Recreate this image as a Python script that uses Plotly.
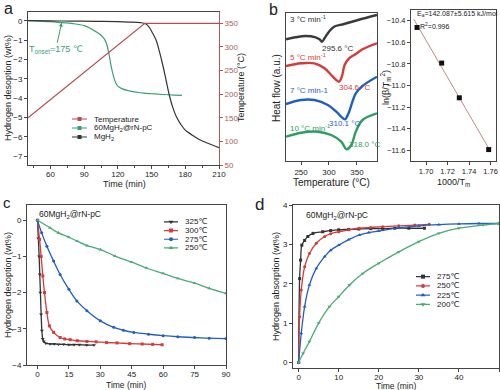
import plotly.graph_objects as go
import numpy as np

W, H = 500, 390
def px(x): return x / W
def py(y): return 1 - y / H

FONT = "Liberation Sans, Arial, DejaVu Sans, sans-serif"
BLK = "#333333"
RED_A = "#b94a4f"
AX_R = "#a85c5c"
GRN_A = "#3a9e73"
RED = "#d63a3a"
BLU = "#1f5fbf"
GRN = "#2f9c62"
GRN_L = "#4aaa7a"

# ---------- panel a ----------
a_t_temp = [40, 144, 210]
a_temp = [150, 350, 350]
a_t_comp = [40, 50, 60, 70, 80, 90, 95, 100, 105, 108, 110, 112, 114, 116, 118, 120, 124, 130, 140, 150, 160, 170, 177]
a_h_comp = [0, -0.02, -0.05, -0.1, -0.15, -0.25, -0.38, -0.55, -0.75, -0.95, -1.2, -1.7, -2.35, -2.85, -3.2, -3.38, -3.52, -3.62, -3.72, -3.77, -3.81, -3.84, -3.85]
a_t_mg = [40, 60, 80, 100, 120, 130, 140, 145, 148, 151, 154, 157, 160, 163, 166, 169, 172, 176, 180, 186, 192, 200, 210]
a_h_mg = [0, -0.01, -0.02, -0.03, -0.05, -0.07, -0.1, -0.17, -0.35, -0.65, -1.0, -1.6, -2.3, -3.1, -3.9, -4.5, -4.95, -5.35, -5.65, -5.9, -6.12, -6.33, -6.55]
a_legend = ["Temperature", "60MgH<sub>2</sub>@rN-pC", "MgH<sub>2</sub>"]

# ---------- panel b (DSC) ----------
b_T3 = [223, 240, 258, 276, 283, 287.5, 292, 300, 309, 327, 352, 386]
b_h3 = [12.17, 12.37, 12.5, 12.37, 12.17, 11.93, 12.27, 12.93, 13.43, 13.7, 14.1, 14.6]
b_T5 = [223, 250, 274, 292, 304, 313, 318, 323, 328, 336, 348, 360, 386]
b_h5 = [9.5, 9.77, 9.77, 9.27, 8.6, 8.1, 7.93, 8.43, 9.6, 10.27, 10.7, 11.17, 11.77]
b_T7 = [223, 250, 274, 298, 313, 325, 329, 335, 343, 348, 360, 386]
b_h7 = [5.7, 6.1, 6.1, 5.6, 4.93, 4.27, 4.17, 4.77, 6.1, 6.77, 7.5, 8.43]
b_T10 = [223, 250, 280, 304, 322, 331.5, 340, 348, 360, 386]
b_h10 = [2.43, 2.83, 2.93, 2.6, 1.93, 1.17, 1.6, 2.93, 4.1, 4.77]

b_inv_T = [1.6916, 1.7145, 1.7309, 1.7582]
b_lnbeta = [-10.462, -10.792, -11.114, -11.594]

# ---------- panel c ----------
c_t325 = [0, 0.4, 0.8, 1.1, 1.4, 1.75, 2.1, 2.5, 3, 4, 6, 8, 10, 12.5, 15, 17.5, 20, 23.5, 27]
c_h325 = [0, -0.5, -1.0, -1.5, -2.0, -2.6, -3.05, -3.28, -3.35, -3.4, -3.42, -3.42, -3.43, -3.43, -3.44, -3.44, -3.44, -3.45, -3.45]
c_t300 = [0, 1, 1.75, 2.55, 3.35, 4.5, 5.7, 7.7, 10.8, 13, 15.6, 19, 23.6, 28, 33, 38, 44, 50, 55, 59.5]
c_h300 = [0, -0.53, -1.0, -1.54, -2.0, -2.55, -2.92, -3.1, -3.24, -3.28, -3.3, -3.33, -3.35, -3.36, -3.38, -3.39, -3.41, -3.42, -3.43, -3.44]
c_t275 = [0, 2, 4.5, 7.7, 10.8, 15, 18.8, 23.6, 30, 36.4, 41, 46, 53, 60, 67, 75, 82, 90]
c_h275 = [0, -0.35, -0.72, -1.13, -1.5, -1.91, -2.23, -2.5, -2.78, -2.96, -3.04, -3.1, -3.15, -3.19, -3.22, -3.24, -3.26, -3.27]
c_t250 = [0, 6, 10, 15, 19, 23.6, 30, 37, 45, 52, 60, 67, 75, 82, 90]
c_h250 = [0, -0.21, -0.35, -0.47, -0.58, -0.7, -0.81, -0.99, -1.16, -1.32, -1.47, -1.61, -1.74, -1.88, -2.02]
c_legend = ["325℃", "300℃", "275℃", "250℃"]

# ---------- panel d ----------
d_t275 = [0, 0.25, 0.5, 0.8, 1.5, 2.3, 3.6, 6, 8, 10, 12.5, 15, 18, 21, 24, 27.5, 31.4]
d_h275 = [0, 2.13, 2.6, 2.98, 3.1, 3.2, 3.28, 3.32, 3.35, 3.37, 3.38, 3.39, 3.4, 3.4, 3.41, 3.41, 3.41]
d_t250 = [0, 0.25, 0.66, 1.5, 2.7, 4.4, 6.5, 8, 10, 12.5, 15.2, 18, 21, 25, 29, 32.6]
d_h250 = [0, 1.16, 1.84, 2.43, 2.77, 3.03, 3.2, 3.27, 3.32, 3.37, 3.41, 3.43, 3.45, 3.47, 3.49, 3.51]
d_t225 = [0, 0.66, 1.5, 2.7, 4.4, 6.5, 8, 10, 12.5, 15.2, 17.5, 20, 25, 30, 35, 40, 45, 50]
d_h225 = [0, 0.74, 1.42, 1.97, 2.39, 2.69, 2.85, 2.98, 3.12, 3.24, 3.3, 3.34, 3.42, 3.47, 3.5, 3.52, 3.53, 3.53]
d_t200 = [0, 1.1, 2.7, 5, 7.7, 10, 12.7, 16, 20, 25, 30, 35, 40, 46, 50]
d_h200 = [0, 0.23, 0.53, 1.0, 1.42, 1.67, 1.97, 2.26, 2.52, 2.81, 3.07, 3.28, 3.41, 3.49, 3.53]
d_legend = ["275℃", "250℃", "225℃", "200℃"]

fig = go.Figure()

def sc(x, y, xa, ya, color, width=1.2, symbol=None, msize=3, shape='spline'):
    mode = 'lines+markers' if symbol else 'lines'
    kw = dict(x=x, y=y, xaxis=xa, yaxis=ya, mode=mode,
              line=dict(color=color, width=width, shape=shape),
              showlegend=False, hoverinfo='skip')
    if symbol:
        kw['marker'] = dict(symbol=symbol, size=msize, color=color)
    fig.add_trace(go.Scatter(**kw))

# panel a
sc(a_t_temp, a_temp, 'x', 'y2', RED_A, 1.2, shape='linear')
sc(a_t_comp, a_h_comp, 'x', 'y', GRN_A, 1.2)
sc(a_t_mg, a_h_mg, 'x', 'y', BLK, 1.2)

# panel b left
sc(b_T3, b_h3, 'x3', 'y3', "#3a3a3a", 2.4)
sc(b_T5, b_h5, 'x3', 'y3', RED, 2.4)
sc(b_T7, b_h7, 'x3', 'y3', BLU, 2.4)
sc(b_T10, b_h10, 'x3', 'y3', GRN, 2.4)

# panel b right
coef = np.polyfit(b_inv_T, b_lnbeta, 1)
fit_x = np.array([min(b_inv_T) - 0.003, max(b_inv_T) + 0.001])
fig.add_trace(go.Scatter(x=fit_x, y=np.polyval(coef, fit_x), xaxis='x4', yaxis='y4', mode='lines',
                         line=dict(color="#c08a84", width=1), showlegend=False, hoverinfo='skip'))
fig.add_trace(go.Scatter(x=b_inv_T, y=b_lnbeta, xaxis='x4', yaxis='y4', mode='markers',
                         marker=dict(symbol='square', size=5, color='#111111'), showlegend=False, hoverinfo='skip'))

# panel c
c_styles = [(BLK, 'triangle-down', 3.5), (RED, 'square', 3), (BLU, 'circle', 3), (GRN_L, 'triangle-up', 3.5)]
for (xs, ys), (col, sym, ms) in zip([(c_t325, c_h325), (c_t300, c_h300), (c_t275, c_h275), (c_t250, c_h250)], c_styles):
    sc(xs, ys, 'x5', 'y5', col, 1.3, sym, ms)

# panel d
d_styles = [(BLK, 'square', 3), (RED, 'circle', 3), (BLU, 'triangle-up', 3.5), (GRN_L, 'triangle-down', 3.5)]
for (xs, ys), (col, sym, ms) in zip([(d_t275, d_h275), (d_t250, d_h250), (d_t225, d_h225), (d_t200, d_h200)], d_styles):
    sc(xs, ys, 'x6', 'y6', col, 1.3, sym, ms)

# legends drawn on small helper axes (x7/y7, x8/y8, x9/y9)
anns = []
def draw_legend(names, styles, xa, ya, fsize=8):
    for k, (nm, (col, sym, ms)) in enumerate(zip(names, styles)):
        fig.add_trace(go.Scatter(x=[0, 1], y=[k, k], xaxis=xa, yaxis=ya, mode='lines',
                                 line=dict(color=col, width=1.2), showlegend=False, hoverinfo='skip'))
        fig.add_trace(go.Scatter(x=[0.5], y=[k], xaxis=xa, yaxis=ya, mode='markers',
                                 marker=dict(symbol=sym, size=ms + 1, color=col), showlegend=False, hoverinfo='skip'))
        anns.append(dict(x=1, y=k, xref=xa, yref=ya, text=nm, showarrow=False, xanchor='left', yanchor='middle',
                         xshift=5, font=dict(family=FONT, size=fsize, color='#222222')))

a_styles = [(RED_A, 'square', 3), (GRN_A, 'square', 3), (BLK, 'square', 3)]
draw_legend(a_legend, a_styles, 'x7', 'y7')
draw_legend(c_legend, c_styles, 'x8', 'y8')
draw_legend(d_legend, d_styles, 'x9', 'y9')

TF = dict(family=FONT, size=8, color='#222222')

def xax(dom, rng, anchor, **kw):
    d = dict(domain=[px(dom[0]), px(dom[1])], range=rng, anchor=anchor, showline=True, linecolor='#444444',
             linewidth=1, mirror=True, ticks='outside', ticklen=3, tickcolor='#444444', showgrid=False,
             zeroline=False, tickfont=TF)
    d.update(kw)
    return d

def yax(dom, rng, anchor, **kw):
    d = dict(domain=[py(dom[1]), py(dom[0])], range=rng, anchor=anchor, showline=True, linecolor='#444444',
             linewidth=1, mirror=True, ticks='outside', ticklen=3, tickcolor='#444444', showgrid=False,
             zeroline=False, tickfont=TF)
    d.update(kw)
    return d

def hidden_x(dom, anchor):
    return dict(domain=[px(dom[0]), px(dom[1])], range=[0, 1], anchor=anchor, visible=False, fixedrange=True)

def hidden_y(dom, n, anchor):
    return dict(domain=[py(dom[1]), py(dom[0])], range=[n - 0.5, -0.5], anchor=anchor, visible=False, fixedrange=True)

layout = dict(
    width=W, height=H, margin=dict(l=0, r=0, t=0, b=0, autoexpand=False), paper_bgcolor='white', plot_bgcolor='rgba(0,0,0,0)',
    font=dict(family=FONT, size=9, color='#222222'),
    xaxis=xax((28, 219), [40, 210], 'y', tickvals=[60, 90, 120, 150, 180, 210], ticklabelstandoff=-2,
              minor=dict(ticks='outside', ticklen=2, tickvals=[45, 75, 105, 135, 165, 195], tickcolor='#444444')),
    yaxis=yax((12, 165), [-7.45, 0.45], 'x', dtick=1, mirror=False),
    yaxis2=dict(overlaying='y', side='right', anchor='x', range=[50, 374], dtick=50, showline=True,
                linecolor=AX_R, linewidth=1, ticks='outside', ticklen=3, tickcolor=AX_R, showgrid=False,
                zeroline=False, tickfont=dict(family=FONT, size=8, color=AX_R)),
    xaxis3=xax((286, 377), [223, 386], 'y3', tickvals=[250, 300, 350]),
    yaxis3=yax((13, 161), [0, 14.8], 'x3', showticklabels=False, ticks=''),
    xaxis4=xax((411, 496), [1.686, 1.765], 'y4', tickvals=[1.70, 1.72, 1.74, 1.76], tickformat='.2f',
               tickfont=dict(family=FONT, size=7.5, color='#222222')),
    yaxis4=yax((10, 161), [-11.70, -10.30], 'x4', tickvals=[-10.4, -10.6, -10.8, -11.0, -11.2, -11.4, -11.6], tickformat='.1f',
               tickfont=dict(family=FONT, size=7.5, color='#222222')),
    xaxis5=xax((27, 226), [-5, 90], 'y5', dtick=15, ticklabelstandoff=-2),
    yaxis5=yax((205, 365), [-4, 0.42], 'x5', dtick=1),
    xaxis6=xax((293, 499), [-1.4, 50], 'y6', dtick=10, ticklabelstandoff=-2),
    yaxis6=yax((205, 368), [-0.14, 4], 'x6', dtick=1),
    xaxis7=hidden_x((72, 87), 'y7'),
    yaxis7=hidden_y((114.5, 141.5), 3, 'x7'),
    xaxis8=hidden_x((164, 178), 'y8'),
    yaxis8=hidden_y((217.5, 252.3), 4, 'x8'),
    xaxis9=hidden_x((416, 430), 'y9'),
    yaxis9=hidden_y((272, 309), 4, 'x9'),
)
fig.update_layout(**layout)

def txt(x, y, s, size=9, color='#222222', xanchor='center', angle=0):
    anns.append(dict(x=px(x), y=py(y), xref='paper', yref='paper', text=s, showarrow=False,
                     xanchor=xanchor, yanchor='middle', textangle=angle,
                     font=dict(family=FONT, size=size, color=color)))

# panel letters
txt(8, 8, "a", 16)
txt(273, 9, "b", 16)
txt(7, 202, "c", 15)
txt(259, 204, "d", 17)

# axis titles
txt(8, 88, "Hydrogen desoption (wt%)", 9, angle=-90)
txt(124, 184, "Time (min)", 9)
txt(241, 88, "Temperature (°C)", 9, angle=-90)
txt(277, 88, "Heat flow (a.u.)", 10, angle=-90)
txt(331, 182, "Temperature (°C)", 10)
txt(386, 88, "ln(β/T<sub>m</sub><sup>2</sup>)", 9, angle=-90)
txt(453, 182, "1000/T<sub>m</sub>", 9)
txt(8, 285, "Hydrogen desoption (wt%)", 9, angle=-90)
txt(126, 384.5, "Time (min)", 8.5)
txt(276, 287, "Hydrogen absorption (wt%)", 9, angle=-90)
txt(396, 385.5, "Time (min)", 8.5)

# inner texts
txt(288, 19, "3 °C min<sup>-1</sup>", 8, '#333333', 'left')
txt(337, 48, "295.6 °C", 8, '#333333')
txt(288, 57, "5 °C min<sup>-1</sup>", 8, RED, 'left')
txt(354, 87, "304.6 °C", 8, RED)
txt(288, 90, "7 °C min-1", 8, BLU, 'left')
txt(344, 124, "310.1 °C", 8, BLU)
txt(288, 128, "10 °C min<sup>-1</sup>", 8, GRN, 'left')
txt(364, 144, "318.0 °C", 8, GRN)
txt(415, 14, "E<sub>a</sub>=142.087±5.615 kJ/mol", 7, '#222222', 'left')
txt(418, 26, "R<sup>2</sup>=0.996", 7, '#222222', 'left')
txt(37, 214, "60MgH<sub>2</sub>@rN-pC", 8.5, '#222222', 'left')
txt(304, 215, "60MgH<sub>2</sub>@rN-pC", 8.5, '#222222', 'left')

# T onset arrow
anns.append(dict(x=70, y=-0.1, xref='x', yref='y', text="T<sub>onset</sub>=175 ℃", showarrow=True,
                 ax=-6, ay=27, axref='pixel', ayref='pixel', arrowhead=2, arrowsize=0.8, arrowwidth=1,
                 arrowcolor=GRN_A, font=dict(family=FONT, size=9, color=GRN_A)))

fig.update_layout(annotations=anns)
fig.write_html("out.html", config={'displayModeBar': False, 'staticPlot': True},
               post_script="document.body.style.margin='0';document.body.style.padding='0';document.body.style.overflow='hidden';")
